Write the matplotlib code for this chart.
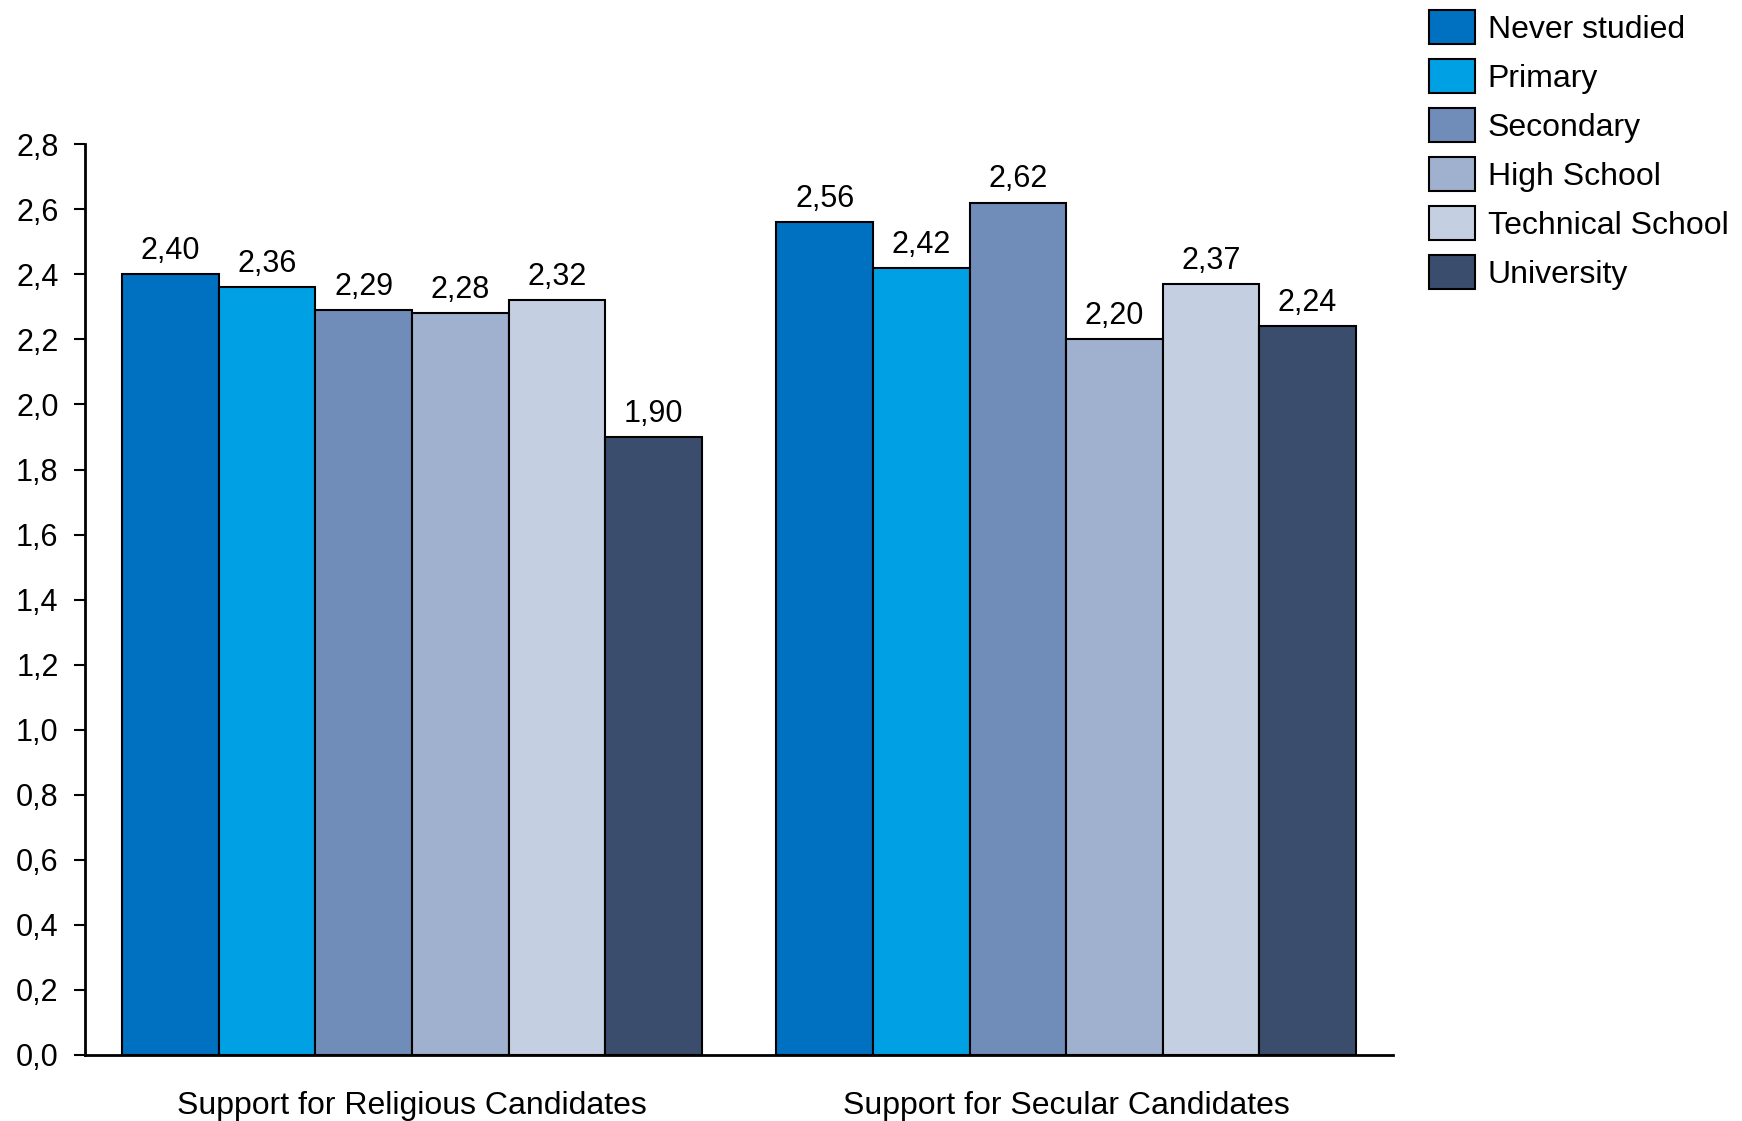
import numpy as np
import matplotlib
matplotlib.use("Agg")
import matplotlib.pyplot as plt
from matplotlib.ticker import FuncFormatter

plt.rcParams["font.family"] = ["Liberation Sans", "DejaVu Sans"]

groups = ["Support for Religious Candidates", "Support for Secular Candidates"]
levels = ["Never studied", "Primary", "Secondary", "High School",
          "Technical School", "University"]
religious = [2.40, 2.36, 2.29, 2.28, 2.32, 1.90]
secular = [2.56, 2.42, 2.62, 2.20, 2.37, 2.24]
colors = ["#0070C0", "#00A1E4", "#6F8DB8", "#9FB1CF", "#C4CFE1", "#3A4D6C"]

values = np.array([religious, secular])  # shape (groups, levels)

fig = plt.figure(figsize=(17.42, 11.21), dpi=100)
ax = fig.add_axes([0.0488, 0.0589, 0.7509, 0.8124])

x = np.arange(len(groups))
width = 0.1476
offsets = (np.arange(len(levels)) - (len(levels) - 1) / 2) * width

for i, (lvl, col) in enumerate(zip(levels, colors)):
    bars = ax.bar(x + offsets[i], values[:, i], width, color=col,
                  edgecolor="black", linewidth=1.5, label=lvl)
    for b, v in zip(bars, values[:, i]):
        ax.annotate(f"{v:.2f}".replace(".", ","),
                    (b.get_x() + b.get_width() / 2, v),
                    xytext=(0, 6), textcoords="offset points",
                    ha="center", va="bottom", fontsize=22)

ax.set_xlim(-0.5, 1.5)
ax.set_ylim(0, 2.8)
ax.set_yticks(np.arange(0, 2.81, 0.2))
ax.yaxis.set_major_formatter(FuncFormatter(lambda v, p: f"{v:.1f}".replace(".", ",")))
ax.set_xticks(x)
ax.set_xticklabels(groups, fontsize=23)
ax.tick_params(axis="x", length=0, pad=26)
ax.tick_params(axis="y", labelsize=22, length=8, width=1.5, pad=11)

for s in ["top", "right"]:
    ax.spines[s].set_visible(False)
ax.spines["left"].set_linewidth(2)
ax.spines["bottom"].set_linewidth(2)

fig.legend(loc="upper left", bbox_to_anchor=(1429 / 1742, 1 - 10 / 1121), frameon=False,
           fontsize=23, handlelength=1.44, handleheight=1.28,
           handletextpad=0.4, labelspacing=0.44, borderaxespad=0, borderpad=0)

fig.savefig("out.png", dpi=100)
